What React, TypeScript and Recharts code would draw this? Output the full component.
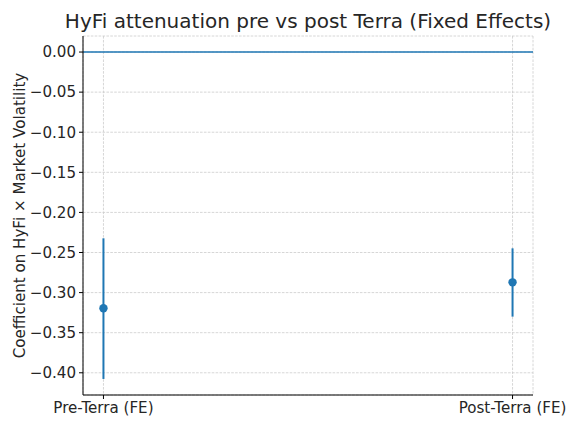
import React from 'react';
import {
  ComposedChart,
  Scatter,
  ErrorBar,
  XAxis,
  YAxis,
  CartesianGrid,
  ReferenceLine,
} from 'recharts';

const categories = ['Pre-Terra (FE)', 'Post-Terra (FE)'];
const coefficients = [-0.3196, -0.2872];
const ciLower = [-0.4077, -0.33];
const ciUpper = [-0.2323, -0.2448];
const yTicks = [0, -0.05, -0.1, -0.15, -0.2, -0.25, -0.3, -0.35, -0.4];

const data = categories.map((c, i) => ({
  x: i,
  name: c,
  y: coefficients[i],
  err: [coefficients[i] - ciLower[i], ciUpper[i] - coefficients[i]],
}));

const BLUE = '#1f77b4';
const TEXT = '#262626';
const FONT = "'DejaVu Sans', sans-serif";

const fmtY = (v: number) => {
  const s = Math.abs(v).toFixed(2);
  return v < -1e-9 ? '\u2212' + s : s;
};

const Dot = (props: any) => {
  const { cx, cy } = props;
  return <circle cx={cx} cy={cy} r={4.2} fill={BLUE} />;
};

export default function App() {
  return (
    <div style={{ position: 'absolute', left: 0, top: 0, width: 580, height: 428, background: '#fff', fontFamily: FONT }}>
      <ComposedChart
        width={580}
        height={428}
        data={data}
        margin={{ top: 36, right: 47, bottom: 0, left: 0 }}
        style={{ fontFamily: FONT }}
      >
        <text
          x={308}
          y={28}
          textAnchor="middle"
          fontSize={20}
          fill={TEXT}
          style={{ fontFamily: FONT }}
        >
          HyFi attenuation pre vs post Terra (Fixed Effects)
        </text>
        <CartesianGrid stroke="#cbcbcb" strokeDasharray="2.6 1.3" strokeWidth={0.8} />
        <XAxis
          type="number"
          dataKey="x"
          domain={[-0.05, 1.05]}
          ticks={[0, 1]}
          tickFormatter={(v: number) => categories[v] ?? ''}
          height={33}
          tickSize={4}
          tickMargin={3}
          stroke="#000"
          strokeWidth={1}
          tick={{ fill: TEXT, fontSize: 15.1, style: { fontFamily: FONT } }}
          allowDataOverflow
        />
        <YAxis
          type="number"
          domain={[-0.4277, 0.02]}
          ticks={yTicks}
          tickFormatter={fmtY}
          width={83}
          tickSize={4}
          tickMargin={3}
          stroke="#000"
          strokeWidth={1}
          tick={{ fill: TEXT, fontSize: 15.1, style: { fontFamily: FONT } }}
          allowDataOverflow
          label={{
            value: 'Coefficient on HyFi × Market Volatility',
            angle: -90,
            position: 'insideLeft',
            offset: 0,
            dx: 20,
            style: { textAnchor: 'middle', fill: TEXT, fontSize: 15.1, fontFamily: FONT },
          }}
        />
        <ReferenceLine y={0} stroke={BLUE} strokeWidth={1.5} ifOverflow="extendDomain" />
        <Scatter dataKey="y" fill={BLUE} shape={<Dot />} isAnimationActive={false}>
          <ErrorBar dataKey="err" direction="y" width={0} stroke={BLUE} strokeWidth={2} />
        </Scatter>
      </ComposedChart>
    </div>
  );
}
